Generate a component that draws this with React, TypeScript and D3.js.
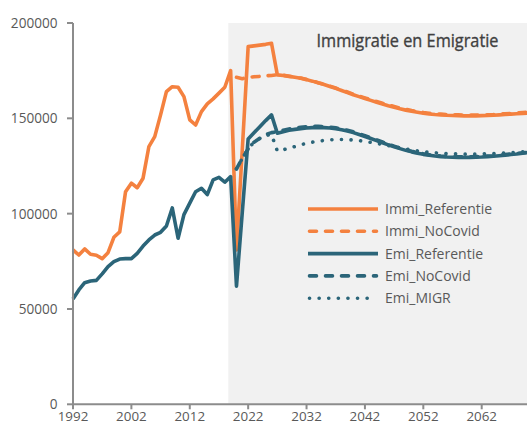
import * as d3 from 'd3'

// years 1992 .. 2070
const firstYear = 1992
const lastYear = 2070
const years = d3.range(firstYear, lastYear + 1)

const xTicks = [1992, 2002, 2012, 2022, 2032, 2042, 2052, 2062]
const yTicks = [0, 50000, 100000, 150000, 200000]

// start of shaded projection block (in years)
const projectionStart = 2018.6

const immiHist = [
  81000, 78300, 81500, 78700, 78200, 76400, 79500, 87600, 90400, 111500,
  116000, 113600, 118600, 135200, 140400, 151800, 164000, 166600, 166300, 161400,
  149200, 146500, 153500, 157600, 160200, 163200, 166300, 175000,
]
const emiHist = [
  55200, 60000, 63800, 64700, 65000, 68400, 72200, 74800, 76200, 76400,
  76400, 79200, 83000, 86200, 88800, 90200, 93500, 103000, 87100, 99500,
  105500, 111500, 113300, 110000, 117700, 119000, 116500, 119400,
]

// 2020 .. 2026
const immiRefCovid = [81000, 134000, 187600, 188000, 188400, 188800, 189400]
const immiNoCovidStart = [171500, 170800, 171500, 171800, 172000, 172300, 172500]
const emiRefCovid = [62000, 101000, 139200, 142400, 145600, 148800, 151800]
const emiNoCovidStart = [123500, 129000, 134000, 137500, 139500, 141500, 142500]
const emiMigrStart = [123500, 129000, 134000, 137500, 139500, 141000, 141500]

// 2027 .. 2070
const immiRefLong = [
  172800, 172500, 172000, 171500, 171000, 170300, 169500, 168600, 167700, 166700,
  165700, 164600, 163500, 162400, 161400, 160400, 159400, 158400, 157500, 156600,
  155800, 155000, 154300, 153700, 153200, 152700, 152300, 152000, 151800, 151600,
  151500, 151400, 151300, 151300, 151300, 151400, 151500, 151600, 151800, 152000,
  152200, 152400, 152600, 152800,
]
const immiNoCovidLong = [
  172800, 172600, 172100, 171600, 171100, 170400, 169600, 168700, 167800, 166900,
  165900, 164800, 163800, 162700, 161700, 160700, 159700, 158800, 157900, 157000,
  156200, 155400, 154700, 154100, 153600, 153100, 152700, 152400, 152200, 152000,
  151900, 151800, 151700, 151700, 151700, 151800, 151900, 152000, 152200, 152400,
  152600, 152800, 153000, 153200,
]
const emiRefLong = [
  142200, 143000, 143700, 144200, 144600, 144900, 145100, 145200, 145100, 144900,
  144500, 144000, 143300, 142500, 141500, 140500, 139400, 138300, 137200, 136100,
  135100, 134100, 133200, 132400, 131700, 131100, 130600, 130200, 129900, 129700,
  129600, 129500, 129500, 129500, 129600, 129700, 129900, 130100, 130400, 130700,
  131000, 131300, 131700, 132100,
]
const emiNoCovidLong = [
  143000, 143800, 144400, 144900, 145300, 145600, 145800, 145800, 145700, 145400,
  145000, 144400, 143700, 142900, 141900, 140900, 139800, 138700, 137600, 136500,
  135400, 134400, 133500, 132700, 132000, 131400, 130900, 130500, 130200, 130000,
  129900, 129800, 129800, 129800, 129900, 130000, 130200, 130400, 130700, 131000,
  131300, 131600, 131900, 132300,
]
const emiMigrLong = [
  132800, 133500, 134300, 135200, 136100, 136900, 137500, 138000, 138400, 138700,
  138900, 138900, 138800, 138600, 138300, 137900, 137400, 136900, 136300, 135700,
  135100, 134500, 133900, 133400, 132900, 132500, 132200, 131900, 131700, 131500,
  131400, 131300, 131200, 131200, 131200, 131300, 131400, 131500, 131600, 131800,
  132000, 132200, 132400, 132600,
]

const ORANGE = '#F4813F'
const TEAL = '#2B6579'

type Pt = [number, number]
const pair = (start: number, vals: number[]): Pt[] => vals.map((v, i) => [start + i, v])

const series = [
  { name: 'Immi_Referentie', color: ORANGE, dash: null as string | null,
    data: [...pair(1992, immiHist), ...pair(2020, immiRefCovid), ...pair(2027, immiRefLong)] },
  { name: 'Immi_NoCovid', color: ORANGE, dash: '7,9',
    data: [...pair(2020, immiNoCovidStart), ...pair(2027, immiNoCovidLong)] },
  { name: 'Emi_Referentie', color: TEAL, dash: null,
    data: [...pair(1992, emiHist), ...pair(2020, emiRefCovid), ...pair(2027, emiRefLong)] },
  { name: 'Emi_NoCovid', color: TEAL, dash: '7,9',
    data: [...pair(2020, emiNoCovidStart), ...pair(2027, emiNoCovidLong)] },
  { name: 'Emi_MIGR', color: TEAL, dash: '0.1,9.5',
    data: [...pair(2020, emiMigrStart), ...pair(2027, emiMigrLong)] },
]

const W = 527
const H = 422
const FONT = '"Open Sans", sans-serif'

export default function App() {
  const x = d3.scaleLinear().domain([1992, 2062]).range([73, 481.7])
  const y = d3.scaleLinear().domain([0, 200000]).range([404.3, 23])
  const line = d3.line<Pt>().x(d => x(d[0])).y(d => y(d[1]))
  const axisColor = '#8C8C8C'
  const legendX = 308
  const legendY = 209

  return (
    <svg width={W} height={H} style={{ position: 'absolute', left: 0, top: 0 }} fontFamily={FONT}>
      <rect width={W} height={H} fill="#fff" />
      <rect x={x(projectionStart)} y={y(200000)} width={W - x(projectionStart)}
        height={y(0) - y(200000)} fill="#F1F1F1" />

      <g clipPath="url(#plotclip)">
        <defs>
          <clipPath id="plotclip">
            <rect x={0} y={0} width={W} height={y(0)} />
          </clipPath>
        </defs>
        {series.map(s => (
          <path key={s.name} d={line(s.data) || ''} fill="none" stroke={s.color}
            strokeWidth={3.6} strokeDasharray={s.dash || undefined}
            strokeLinecap={s.dash ? 'round' : 'butt'} strokeLinejoin="round" />
        ))}
      </g>

      {/* y axis */}
      <line x1={x(1992)} x2={x(1992)} y1={y(200000)} y2={y(0)} stroke={axisColor} strokeWidth={2} />
      {yTicks.map(t => (
        <g key={t}>
          <line x1={x(1992) - 6} x2={x(1992)} y1={y(t)} y2={y(t)} stroke={axisColor} strokeWidth={2} />
          <text x={57.5} y={y(t) + 5} textAnchor="end" fontSize={13.6} fill="#595959">{t}</text>
        </g>
      ))}

      {/* x axis */}
      <line x1={x(1992) - 1} x2={W} y1={y(0)} y2={y(0)} stroke={axisColor} strokeWidth={2} />
      {xTicks.map(t => (
        <g key={t}>
          <line x1={x(t)} x2={x(t)} y1={y(0)} y2={y(0) + 5} stroke={axisColor} strokeWidth={2} />
          <text x={x(t)} y={420.5} textAnchor="middle" fontSize={13.4} fill="#595959">{t}</text>
        </g>
      ))}

      <text x={316.5} y={46.5} fontSize={18} fill="#404040" stroke="#404040" strokeWidth={0.35}
        textLength={182} lengthAdjust="spacingAndGlyphs">Immigratie en Emigratie</text>

      {series.map((s, i) => (
        <g key={s.name} transform={`translate(${legendX},${legendY + i * 22.3})`}>
          <line x1={s.dash ? 1.5 : 0} x2={s.dash ? 68.5 : 70} y1={0} y2={0} stroke={s.color}
            strokeWidth={3.6} strokeDasharray={s.dash || undefined}
            strokeLinecap={s.dash ? 'round' : 'butt'} />
          <text x={77} y={5} fontSize={14} fill="#595959">{s.name}</text>
        </g>
      ))}
    </svg>
  )
}
